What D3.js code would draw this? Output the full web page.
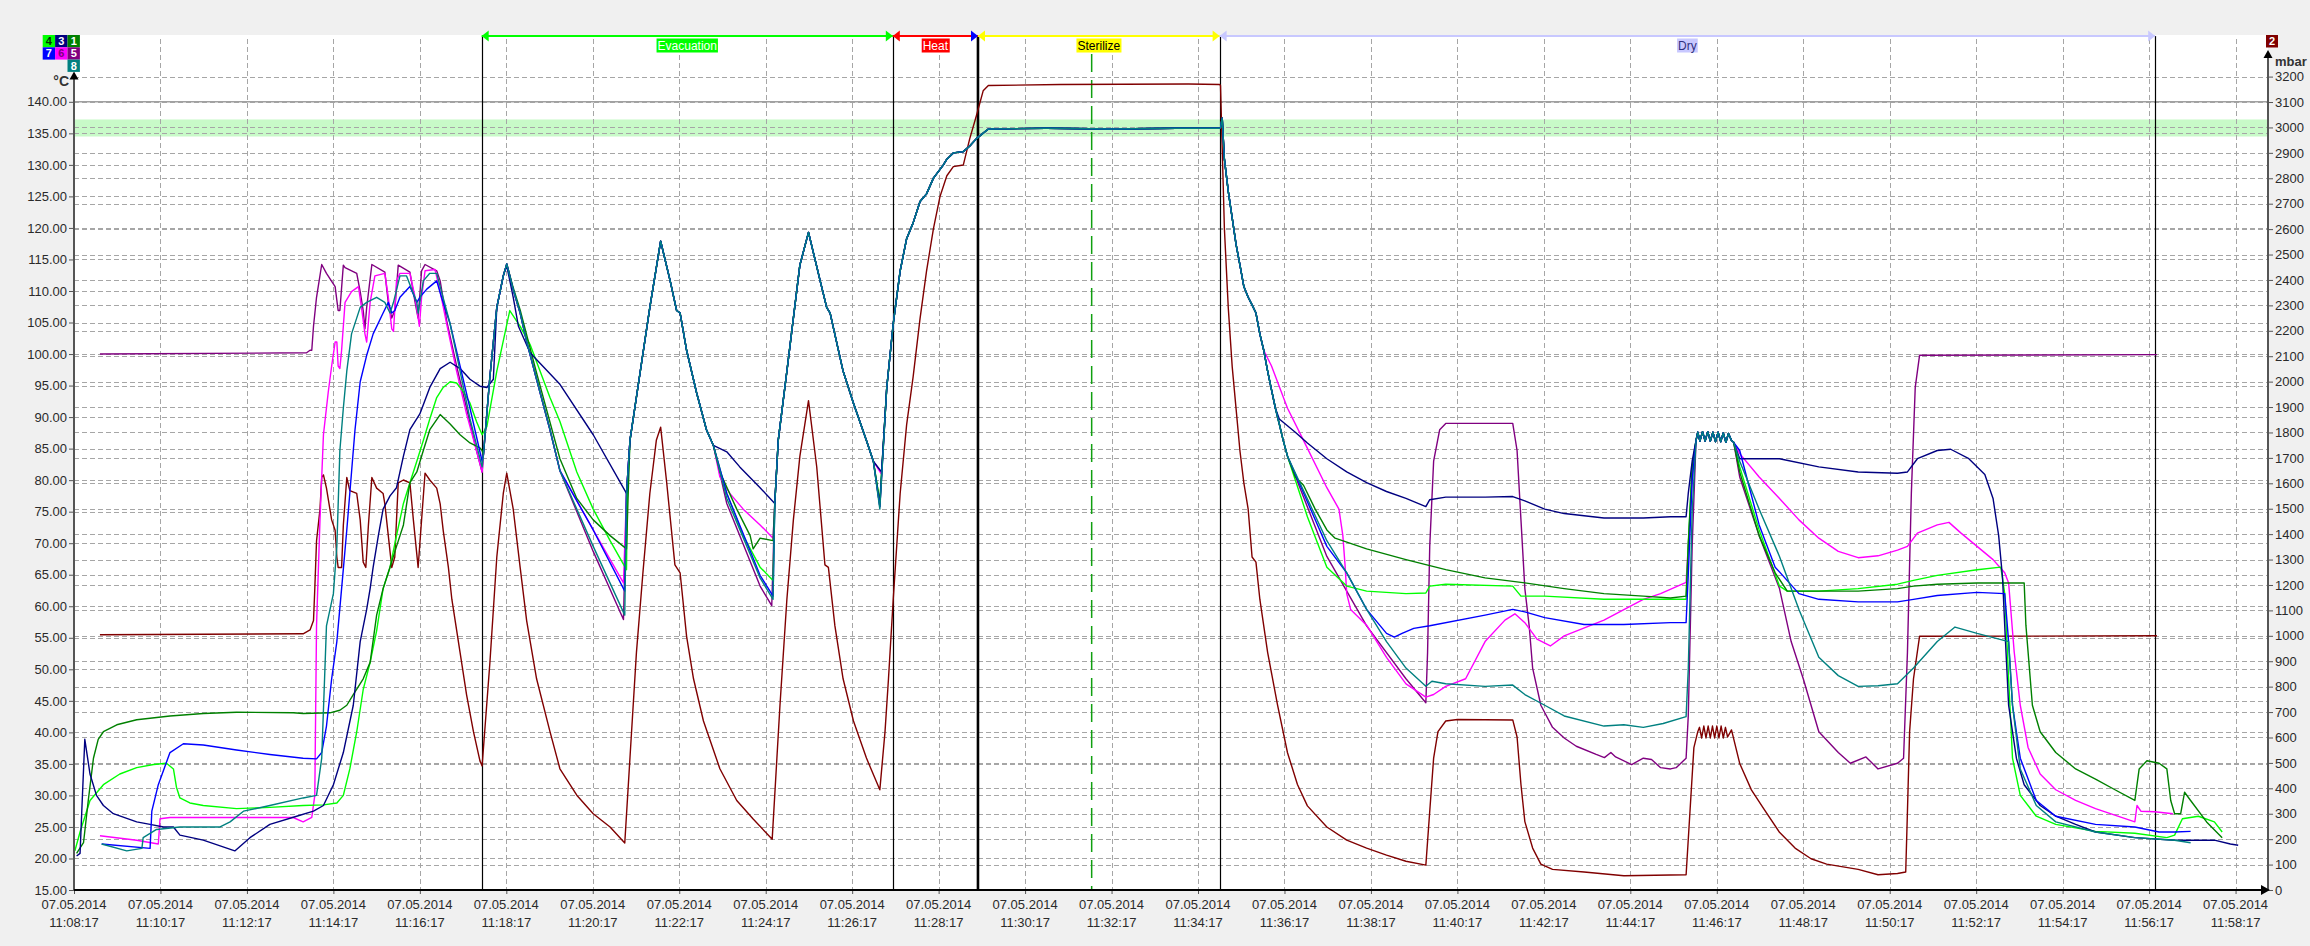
<!DOCTYPE html>
<html><head><meta charset="utf-8">
<script src="https://cdn.jsdelivr.net/npm/d3@7"></script>
<style>
html,body{margin:0;padding:0;background:#f0f0f0;}
svg{display:block;font-family:"Liberation Sans",Arial,sans-serif;}
</style></head><body>
<svg id="c" width="2310" height="946"></svg>
<script>
// ---------- DATA (time in minutes after 07.05.2014 11:08:17) ----------
const START = new Date(2014, 4, 7, 11, 8, 17);
const X_END_MIN = 50.75;
const xTickMinutes = d3.range(0, 51, 2);
const leftTicks = d3.range(15, 141, 5);          // °C
const rightTicks = d3.range(0, 3201, 100);       // mbar
const limitLine = 140;                           // °C solid line
const bandLo = 134.5, bandHi = 137.2;            // sterilisation band °C
const sterilizeMark = 23.54;                     // green dashed marker

const phaseNames = ["Evacuation", "Heat", "Sterilize", "Dry"];
const phaseStart = [9.43, 18.94, 20.91, 26.50];
const phaseEnd   = [18.94, 20.91, 26.50, 48.14];
const phaseColors = ["#00ff00", "#ff0000", "#ffff00", "#c8c8ff"];
const phaseEndArrowColors = ["#00ff00", "#0000ff", "#ffff00", "#c8c8ff"];
const phaseTextColors = ["#ffffff", "#ffffff", "#000000", "#303080"];

// shared segments (all temperature probes overlap)
const pulse1Up = [[9.47,84.0],[9.62,96.4],[9.78,107.4],[9.93,112.4],[10.01,114.3]];
const pulse1Down = [[10.16,110.2],[10.32,106.5],[10.47,102.0],[10.70,96.0],[11.01,88.0],[11.24,81.5]];
const pulse2 = [[12.86,86.3],[13.08,96.4],[13.32,107.4],[13.57,117.9],[13.79,111.6],[13.94,106.9],[14.02,106.5],[14.17,100.6],[14.40,93.9],[14.63,88.0],[14.79,85.5]];
const pulse3 = [[16.29,86.3],[16.49,97.3],[16.64,105.7],[16.79,114.1],[16.99,119.3],[17.26,111.6],[17.41,107.4],[17.49,106.5],[17.79,97.3],[18.03,92.2],[18.33,86.3],[18.49,83.0]];
const heatUp = [[18.80,94.7],[18.95,104.8],[19.11,113.2],[19.26,118.3],[19.41,120.8],[19.57,124.2],[19.72,125.4],[19.88,127.9],[20.11,130.0],[20.19,130.9],[20.34,131.9],[20.57,132.1],[20.72,133.0],[20.88,134.2],[21.15,135.7],[22.5,135.8],[24.0,135.7],[25.5,135.8],[26.50,135.8]];
const dryDrop = [[26.52,135.9],[26.56,137.4],[26.61,130.9],[26.70,125.8],[26.79,121.6],[26.88,117.4],[26.97,114.1],[27.06,110.7],[27.16,109.0],[27.25,107.8],[27.34,106.5],[27.43,103.2],[27.52,100.6]];
const dryDrop2 = [[27.61,97.3],[27.70,94.3],[27.79,91.4],[27.88,88.9],[27.97,86.3],[28.07,83.8]];
const dryPeak = [[37.52,86.3],[37.56,87.6],[37.61,86.2],[37.67,87.7],[37.73,86.2],[37.79,87.7],[37.85,86.2],[37.91,87.6],[37.97,86.1],[38.03,87.6],[38.09,86.1],[38.15,87.5],[38.21,86.0],[38.27,87.4],[38.34,86.3],[38.39,86.0]];

// 1 dark green (°C)
const s1 = [[0.06,20.8],[0.22,22.5],[0.33,29.2],[0.45,35.9],[0.56,38.9],[0.68,40.1],[0.99,41.2],[1.45,42.0],[2.22,42.6],[2.99,43.0],[3.76,43.2],[5.07,43.1],[5.30,43.0],[5.92,43.1],[6.15,43.5],[6.31,44.3],[6.46,46.0],[6.69,48.5],[6.85,51.1],[7.00,58.6],[7.15,62.8],[7.31,66.2],[7.46,69.5],[7.62,72.9],[7.77,79.6],[7.93,81.3],[8.08,84.7],[8.23,88.0],[8.47,90.4],[8.70,88.9],[8.93,87.2],[9.16,85.9],[9.39,85.1],[9.44,84.7],
 ...pulse1Up,[10.16,110.5],[10.32,107.0],[10.70,97.0],[11.24,83.4],[11.63,77.1],[12.01,73.7],[12.40,71.2],[12.78,69.1],[12.82,78.0],
 ...pulse2,[14.94,81.3],[15.33,75.4],[15.64,71.2],[15.71,69.1],[15.87,70.8],[16.17,70.4],[16.21,76.3],
 ...pulse3,[18.64,76.5],...heatUp,...dryDrop,...dryDrop2,
 [28.25,80.5],[28.44,79.2],[28.71,75.4],[28.98,72.1],[29.17,70.8],[29.90,69.1],[30.81,67.4],[31.73,65.8],[32.64,64.5],[33.56,63.7],[34.47,62.8],[35.39,62.0],[36.30,61.6],[36.93,61.3],[37.29,61.6],[37.34,69.5],[37.43,82.1],
 ...dryPeak,[38.53,81.3],[38.98,71.2],[39.35,65.3],[39.63,62.4],[41.27,62.4],[42.18,62.8],[42.55,63.2],[43.10,63.5],[44.02,63.7],[45.11,63.7],[45.15,57.0],[45.30,44.3],[45.48,40.1],[45.84,36.8],[46.30,34.2],[46.76,32.6],[47.21,30.9],[47.67,29.2],[47.77,34.2],[47.95,35.5],[48.23,35.1],[48.41,34.2],[48.50,29.2],[48.59,27.1],[48.73,27.1],[48.82,30.5],[48.96,29.2],[49.33,25.8],[49.69,23.3]];

// 2 maroon pressure (mbar, right axis)
const s2 = [[0.60,1004],[5.30,1008],[5.46,1023],[5.54,1060],[5.57,1185],[5.61,1373],[5.69,1498],[5.73,1623],[5.77,1633],[5.84,1581],[5.96,1456],[6.04,1415],[6.08,1310],[6.11,1269],[6.19,1269],[6.23,1435],[6.31,1623],[6.38,1571],[6.54,1560],[6.62,1456],[6.69,1290],[6.75,1269],[6.81,1435],[6.89,1623],[7.00,1581],[7.15,1560],[7.19,1519],[7.27,1394],[7.35,1269],[7.42,1310],[7.50,1602],[7.62,1613],[7.77,1602],[7.85,1456],[7.96,1269],[8.04,1456],[8.12,1640],[8.23,1613],[8.39,1581],[8.47,1519],[8.54,1415],[8.66,1269],[8.74,1144],[8.93,935],[9.08,769],[9.24,623],[9.39,508],[9.44,488],[9.62,894],[9.78,1310],[9.93,1560],[10.01,1640],[10.16,1498],[10.32,1269],[10.47,1060],[10.70,831],[11.01,623],[11.24,477],[11.63,373],[12.01,300],[12.40,248],[12.74,185],[12.86,519],[13.01,935],[13.16,1248],[13.32,1560],[13.47,1769],[13.57,1821],[13.71,1602],[13.90,1279],[14.02,1248],[14.17,998],[14.33,831],[14.56,665],[14.94,477],[15.33,352],[15.71,279],[16.15,200],[16.33,727],[16.49,1144],[16.64,1456],[16.79,1706],[16.99,1925],[17.18,1665],[17.37,1279],[17.45,1269],[17.60,1040],[17.79,831],[18.03,665],[18.33,519],[18.64,394],[18.76,623],[18.84,831],[18.95,1144],[19.11,1560],[19.26,1831],[19.41,2019],[19.57,2248],[19.72,2435],[19.88,2602],[20.03,2727],[20.19,2810],[20.34,2846],[20.57,2852],[20.72,2956],[20.88,3050],[21.03,3144],[21.15,3165],[22.81,3169],[25.78,3171],[26.50,3169],[26.52,3165],[26.56,2915],[26.61,2602],[26.70,2290],[26.79,2060],[26.88,1894],[26.97,1727],[27.06,1602],[27.16,1498],[27.25,1310],[27.34,1290],[27.43,1144],[27.61,935],[27.84,727],[28.07,540],[28.30,415],[28.53,331],[28.98,248],[29.44,196],[29.90,165],[30.36,137],[30.81,113],[31.27,98],[31.36,310],[31.45,519],[31.55,623],[31.73,665],[32.00,671],[33.28,669],[33.38,602],[33.47,415],[33.56,269],[33.74,165],[33.93,102],[34.20,81],[34.93,71],[35.85,56],[37.29,60],[37.38,310],[37.47,560],[37.56,623],[37.60,640],[37.65,598],[37.70,645],[37.75,598],[37.80,645],[37.85,598],[37.90,645],[37.95,598],[38.00,645],[38.05,598],[38.10,645],[38.15,598],[38.20,640],[38.25,602],[38.34,630],[38.53,498],[38.80,394],[39.08,321],[39.45,227],[39.81,165],[40.18,123],[40.54,102],[41.27,81],[41.73,60],[42.18,65],[42.37,71],[42.41,310],[42.46,623],[42.55,831],[42.69,998],[48.18,1000]];

// 3 navy (°C)
const s3 = [[0.06,20.4],[0.14,20.8],[0.18,27.5],[0.25,38.9],[0.37,33.4],[0.52,30.0],[0.68,28.4],[0.91,27.1],[1.45,25.8],[1.76,25.4],[2.07,25.0],[2.30,25.0],[2.45,23.7],[2.99,22.9],[3.72,21.2],[4.07,23.3],[4.53,25.4],[5.15,26.7],[5.54,27.5],[5.77,28.4],[6.00,31.7],[6.23,36.8],[6.46,44.3],[6.62,54.4],[6.77,59.5],[6.85,62.8],[6.92,66.2],[7.04,71.2],[7.15,75.4],[7.31,77.5],[7.46,78.8],[7.62,83.8],[7.77,88.0],[8.00,90.5],[8.23,94.7],[8.47,97.7],[8.70,98.7],[8.93,97.7],[9.16,96.0],[9.39,94.9],[9.55,94.7],[9.70,96.0],[9.78,107.4],[9.93,112.4],[10.01,114.0],[10.16,109.0],[10.28,104.4],[10.55,100.2],[11.24,95.2],[12.01,87.2],[12.78,77.9],
 ...pulse2,[15.10,84.5],[15.40,82.1],[15.87,78.8],[16.21,76.3],...pulse3,[18.68,81.3],...heatUp,...dryDrop,
 [27.61,97.3],[27.70,94.3],[27.79,91.4],[27.88,89.7],[28.25,87.6],[28.53,85.9],[28.98,83.4],[29.44,81.3],[29.90,79.6],[30.36,78.2],[30.81,77.1],[31.27,75.8],[31.36,76.9],[31.73,77.3],[32.64,77.3],[33.28,77.4],[33.56,76.7],[34.02,75.4],[34.47,74.7],[35.39,74.0],[36.30,74.0],[36.93,74.2],[37.29,74.2],[37.34,77.9],[37.43,83.0],
 ...dryPeak,[38.53,83.4],[39.45,83.4],[40.36,82.1],[41.27,81.3],[42.18,81.1],[42.41,81.3],[42.64,83.4],[43.10,84.7],[43.41,84.9],[43.83,83.4],[44.20,80.9],[44.39,77.1],[44.52,71.2],[44.61,64.5],[44.66,56.9],[44.75,44.3],[44.93,35.9],[45.11,31.7],[45.48,28.4],[45.84,26.7],[46.30,25.4],[46.76,24.2],[47.67,23.3],[48.59,22.9],[49.51,22.9],[49.88,22.3],[50.06,22.1]];

// 4 lime (°C)
const s4 = [[0.02,21.2],[0.14,24.2],[0.37,29.2],[0.68,31.7],[1.06,33.4],[1.45,34.4],[1.84,34.9],[2.14,35.1],[2.30,34.2],[2.37,31.3],[2.45,29.6],[2.68,28.8],[2.99,28.4],[3.76,27.9],[4.53,28.1],[5.30,28.4],[5.77,28.5],[6.08,28.8],[6.23,30.0],[6.38,34.2],[6.54,40.1],[6.69,46.8],[6.85,51.1],[7.00,56.1],[7.15,62.8],[7.31,66.2],[7.46,71.2],[7.62,76.3],[7.77,79.6],[7.93,83.0],[8.08,86.3],[8.23,89.7],[8.39,93.1],[8.54,94.7],[8.70,95.6],[8.85,95.4],[9.01,94.0],[9.16,92.2],[9.31,89.3],[9.44,87.2],[9.55,88.5],[9.78,97.3],[10.08,106.9],[10.32,104.4],[10.55,101.5],[11.01,93.1],[11.24,89.3],[11.63,81.3],[12.01,75.4],[12.40,70.4],[12.78,65.8],[12.80,78.0],
 ...pulse2,[15.10,77.9],[15.48,71.2],[15.87,66.2],[16.17,64.1],[16.21,76.3],...pulse3,[18.64,76.5],...heatUp,...dryDrop,...dryDrop2,
 [28.53,74.2],[28.98,66.2],[29.44,63.2],[29.90,62.4],[30.81,62.0],[31.27,62.1],[31.36,63.2],[31.73,63.5],[33.28,63.2],[33.47,61.6],[34.02,61.6],[35.39,61.1],[36.93,61.1],[37.29,61.1],[37.34,70.0],[37.43,82.0],
 ...dryPeak,[38.53,82.1],[38.98,72.1],[39.45,63.2],[39.63,62.4],[40.36,62.4],[41.27,62.8],[42.18,63.5],[42.55,64.1],[43.10,64.9],[44.02,65.8],[44.57,66.2],[44.66,62.0],[44.75,48.5],[44.84,35.9],[45.02,30.0],[45.39,26.7],[45.84,25.4],[46.76,24.3],[47.67,24.0],[48.41,23.3],[48.59,23.7],[48.77,26.3],[49.14,26.7],[49.51,25.8],[49.69,24.2]];

// 5 purple (°C)
const s5 = [[0.60,100.0],[5.38,100.2],[5.46,100.6],[5.50,100.6],[5.54,104.4],[5.61,109.0],[5.73,114.2],[5.84,112.8],[6.04,110.7],[6.11,106.9],[6.15,106.9],[6.23,114.1],[6.27,113.7],[6.54,112.8],[6.62,109.9],[6.69,106.9],[6.73,104.0],[6.77,107.4],[6.89,114.2],[7.19,113.0],[7.27,108.2],[7.35,105.7],[7.42,106.9],[7.50,114.1],[7.77,113.0],[7.89,108.2],[7.96,105.7],[8.04,113.2],[8.12,114.2],[8.39,113.2],[8.47,111.6],[8.62,105.3],[8.85,98.1],[9.08,91.4],[9.31,84.7],[9.44,81.3],
 ...pulse1Up,...pulse1Down,[12.01,68.7],[12.71,57.9],[12.78,77.9],...pulse2,[15.10,76.3],[15.87,63.2],[16.14,60.1],[16.21,76.3],...pulse3,[18.64,75.8],...heatUp,...dryDrop,...dryDrop2,
 [28.98,67.9],[29.90,56.9],[30.81,48.5],[31.27,44.7],[31.31,52.7],[31.36,69.5],[31.45,83.0],[31.59,88.0],[31.73,89.0],[33.28,89.0],[33.38,84.7],[33.47,73.7],[33.56,62.8],[33.66,56.9],[33.74,50.2],[33.93,44.3],[34.20,40.8],[34.47,39.1],[34.75,37.8],[35.21,36.5],[35.40,36.0],[35.55,36.8],[35.66,36.1],[36.03,34.9],[36.30,35.9],[36.49,35.7],[36.70,34.4],[36.93,34.2],[37.06,34.4],[37.29,35.9],[37.34,42.6],[37.43,69.5],
 ...dryPeak,[38.53,80.5],[38.98,71.2],[39.45,62.8],[39.72,54.4],[40.00,48.5],[40.36,40.1],[40.81,36.8],[41.09,35.1],[41.45,36.1],[41.73,34.2],[42.18,35.1],[42.32,35.9],[42.41,52.7],[42.50,77.9],[42.59,94.7],[42.69,99.8],[48.18,99.9]];

// 6 magenta (°C)
const s6 = [[0.60,23.6],[1.45,22.9],[1.95,22.3],[1.99,26.3],[2.22,26.5],[5.07,26.5],[5.30,25.8],[5.50,26.5],[5.57,30.0],[5.61,56.9],[5.69,73.7],[5.77,87.2],[5.88,93.9],[5.96,98.1],[6.04,101.9],[6.08,101.9],[6.11,98.1],[6.15,97.7],[6.19,100.6],[6.27,108.2],[6.42,109.9],[6.58,110.7],[6.65,107.4],[6.73,103.2],[6.77,101.9],[6.85,108.2],[6.96,112.4],[7.19,112.8],[7.27,109.0],[7.35,104.0],[7.39,103.6],[7.46,111.6],[7.54,112.8],[7.77,112.8],[7.89,109.0],[7.99,104.4],[8.04,109.0],[8.12,113.2],[8.35,113.4],[8.47,109.9],[8.62,104.8],[8.85,97.3],[9.08,90.5],[9.31,84.7],[9.44,81.3],
 ...pulse1Up,...pulse1Down,[12.01,72.1],[12.71,63.7],[12.78,77.9],...pulse2,[14.94,80.5],[15.17,77.9],[15.48,75.4],[15.87,72.9],[16.17,70.8],[16.21,76.3],...pulse3,[18.68,80.9],...heatUp,...dryDrop,
 [27.70,98.1],[28.07,91.4],[28.44,86.3],[28.98,78.8],[29.26,75.4],[29.35,71.2],[29.40,66.6],[29.44,62.0],[29.53,59.5],[29.90,57.0],[30.36,51.9],[30.81,47.7],[31.27,45.6],[31.45,46.0],[31.73,47.3],[32.19,48.5],[32.64,54.4],[33.10,57.8],[33.33,58.8],[33.56,57.4],[33.84,54.8],[34.15,53.7],[34.47,55.3],[35.39,57.8],[36.30,61.1],[36.70,62.0],[37.29,63.8],[37.43,80.0],
 ...dryPeak,[38.53,84.2],[38.98,80.5],[39.45,77.1],[39.90,73.7],[40.36,70.8],[40.81,68.7],[41.27,67.7],[41.73,68.0],[42.18,68.9],[42.41,69.5],[42.64,71.6],[43.10,72.9],[43.37,73.3],[43.65,71.6],[44.02,69.5],[44.39,67.4],[44.66,65.3],[44.75,63.7],[44.88,52.7],[45.02,44.3],[45.20,37.6],[45.48,33.4],[45.84,30.9],[46.30,29.2],[46.76,27.9],[47.67,25.8],[47.72,28.4],[47.81,27.5],[48.13,27.4],[48.55,27.1]];

// 7 blue (°C)
const s7 = [[0.64,22.3],[1.76,21.6],[1.80,27.5],[1.95,31.7],[2.22,36.8],[2.53,38.2],[2.99,38.0],[3.76,37.2],[4.53,36.5],[5.30,35.9],[5.61,35.8],[5.73,36.8],[5.84,41.0],[5.96,48.5],[6.08,54.4],[6.19,62.8],[6.31,72.1],[6.42,81.3],[6.50,88.0],[6.62,95.6],[6.77,99.8],[6.92,103.2],[7.15,106.5],[7.27,108.2],[7.35,106.5],[7.42,106.9],[7.54,109.0],[7.77,110.7],[7.93,108.2],[8.00,109.0],[8.16,110.3],[8.39,111.6],[8.50,109.0],[8.70,104.8],[8.93,98.1],[9.16,91.4],[9.44,83.0],
 ...pulse1Up,...pulse1Down,[12.01,72.1],[12.74,62.4],[12.78,77.9],...pulse2,[15.10,77.9],[15.87,64.9],[16.17,61.6],[16.21,76.3],...pulse3,[18.64,75.8],...heatUp,...dryDrop,...dryDrop2,
 [28.98,69.5],[29.44,65.3],[29.90,59.5],[30.36,55.7],[30.54,55.1],[30.72,55.7],[30.99,56.5],[31.36,56.9],[32.64,58.6],[33.28,59.5],[33.56,59.1],[34.02,58.2],[34.93,57.1],[35.85,57.1],[36.93,57.4],[37.29,57.4],[37.34,65.0],[37.43,80.0],
 ...dryPeak,[38.53,84.7],[38.98,72.9],[39.35,66.2],[39.90,62.0],[40.36,61.1],[41.27,60.7],[42.18,60.7],[42.55,61.1],[43.10,61.7],[44.02,62.2],[44.66,62.0],[44.75,54.4],[44.84,44.3],[45.02,35.9],[45.39,29.2],[45.84,26.7],[46.76,25.4],[47.67,25.0],[48.23,24.2],[48.59,24.2],[48.96,24.3]];

// 8 teal (°C)
const s8 = [[0.64,22.3],[1.22,21.2],[1.57,21.6],[1.60,23.3],[1.91,24.6],[2.45,25.0],[3.38,25.0],[3.61,25.8],[3.92,27.5],[4.53,28.4],[5.30,29.6],[5.61,30.0],[5.73,35.9],[5.84,56.9],[6.00,62.0],[6.08,69.5],[6.15,84.7],[6.23,91.4],[6.31,97.3],[6.42,103.2],[6.62,107.4],[6.77,108.2],[7.00,109.0],[7.19,108.2],[7.31,106.5],[7.39,108.2],[7.54,112.4],[7.69,112.4],[7.93,108.2],[7.96,106.5],[8.08,111.6],[8.23,112.8],[8.39,112.8],[8.47,110.7],[8.70,104.8],[8.93,97.3],[9.16,89.7],[9.44,82.1],
 ...pulse1Up,...pulse1Down,[12.01,69.5],[12.74,58.6],[12.78,77.9],...pulse2,[15.10,77.1],[15.87,64.5],[16.17,61.1],[16.21,76.3],...pulse3,[18.64,75.4],...heatUp,...dryDrop,...dryDrop2,
 [28.98,70.4],[29.44,65.3],[29.90,59.5],[30.36,54.4],[30.81,50.2],[31.27,47.3],[31.41,48.1],[31.73,47.7],[32.64,47.3],[33.28,47.5],[33.56,46.0],[34.02,44.3],[34.47,42.6],[35.39,41.0],[35.85,41.2],[36.30,40.8],[36.76,41.4],[37.29,42.5],[37.34,50.0],[37.43,75.0],
 ...dryPeak,[38.53,83.0],[38.98,75.4],[39.45,67.9],[39.90,59.5],[40.36,51.9],[40.81,49.0],[41.27,47.3],[41.73,47.4],[42.18,47.7],[42.55,50.2],[43.10,54.4],[43.51,56.7],[44.02,55.7],[44.75,54.4],[44.84,44.3],[45.02,34.2],[45.39,28.4],[45.84,25.8],[46.76,24.2],[47.67,23.3],[48.59,22.9],[48.96,22.5]];

const seriesIds = ["2","5","6","4","1","3","7","8"];          // draw order
const seriesData = {"1":s1,"2":s2,"3":s3,"4":s4,"5":s5,"6":s6,"7":s7,"8":s8};
const seriesColors = {"1":"#008000","2":"#800000","3":"#000080","4":"#00ff00","5":"#800080","6":"#ff00ff","7":"#0000ff","8":"#008080"};
const seriesAxis = {"2":"right"};

// legend cells: id, column, row
const legendCells = [["4",0,0],["3",1,0],["1",2,0],["7",0,1],["6",1,1],["5",2,1],["8",2,2]];
const legendTextColors = {"4":"#003000","6":"#800080"};

// ---------- DRAW ----------
const W = 2310, H = 946;
const L = 74, R = 2268, T = 76.6, B = 890, TOPW = 35, BARY = 36;
const FONT = '"Liberation Sans", Arial, sans-serif';
const toDate = m => new Date(START.getTime() + m * 60000);
const x = d3.scaleTime().domain([toDate(0), toDate(X_END_MIN)]).range([L, R]);
const yL = d3.scaleLinear().domain([15, 144]).range([B, T]);
const yR = d3.scaleLinear().domain([0, 3200]).range([B, T]);
const svg = d3.select("#c");

svg.append("rect").attr("width", W).attr("height", H).attr("fill", "#f0f0f0");
svg.append("rect").attr("x", L).attr("y", TOPW).attr("width", R - L).attr("height", B - TOPW).attr("fill", "#ffffff");

// sterilisation band
svg.append("rect").attr("x", L).attr("y", yL(bandHi)).attr("width", R - L)
  .attr("height", yL(bandLo) - yL(bandHi)).attr("fill", "#c8fac8");

// grid
const grid = svg.append("g").attr("stroke", "#a6a6a6").attr("stroke-width", 1).attr("stroke-dasharray", "5,3");
leftTicks.filter(v => v !== limitLine && v !== 15).forEach(v =>
  grid.append("line").attr("x1", L).attr("x2", R).attr("y1", Math.round(yL(v)) + 0.5).attr("y2", Math.round(yL(v)) + 0.5));
rightTicks.filter(v => v > 0).forEach(v =>
  grid.append("line").attr("x1", L).attr("x2", R).attr("y1", Math.round(yR(v)) + 0.5).attr("y2", Math.round(yR(v)) + 0.5));
xTickMinutes.filter(m => m > 0).forEach(m =>
  grid.append("line").attr("x1", Math.round(x(toDate(m))) + 0.5).attr("x2", Math.round(x(toDate(m))) + 0.5).attr("y1", TOPW + 4).attr("y2", B));

// limit line
svg.append("line").attr("x1", L).attr("x2", R).attr("y1", yL(limitLine)).attr("y2", yL(limitLine))
  .attr("stroke", "#a0a0a0").attr("stroke-width", 1.5);

// phase boundary lines
const boundaries = [phaseStart[0], phaseStart[1], phaseStart[3], phaseEnd[3]];
boundaries.forEach(m => svg.append("line").attr("x1", Math.round(x(toDate(m))) + 0.5).attr("x2", Math.round(x(toDate(m))) + 0.5)
  .attr("y1", BARY).attr("y2", B).attr("stroke", "#000").attr("stroke-width", 1.2));
svg.append("line").attr("x1", x(toDate(phaseStart[2]))).attr("x2", x(toDate(phaseStart[2])))
  .attr("y1", BARY).attr("y2", B).attr("stroke", "#000").attr("stroke-width", 2.6);
// green dashed marker
svg.append("line").attr("x1", x(toDate(sterilizeMark))).attr("x2", x(toDate(sterilizeMark)))
  .attr("y1", 54).attr("y2", B).attr("stroke", "#10a010").attr("stroke-width", 1.5).attr("stroke-dasharray", "18,8");

// series
const lineL = d3.line().x(d => x(toDate(d[0]))).y(d => yL(d[1]));
const lineR = d3.line().x(d => x(toDate(d[0]))).y(d => yR(d[1]));
seriesIds.forEach(id => {
  svg.append("path").datum(seriesData[id])
    .attr("d", seriesAxis[id] === "right" ? lineR : lineL)
    .attr("fill", "none").attr("stroke", seriesColors[id]).attr("stroke-width", 1.4)
    .attr("stroke-linejoin", "round");
});

// phase bar
phaseNames.forEach((name, i) => {
  const x0 = x(toDate(phaseStart[i])), x1 = x(toDate(phaseEnd[i]));
  svg.append("line").attr("x1", x0).attr("x2", x1).attr("y1", BARY).attr("y2", BARY)
    .attr("stroke", phaseColors[i]).attr("stroke-width", 2);
  svg.append("path").attr("d", `M${x0},${BARY} L${x0 + 7},${BARY - 5.5} L${x0 + 7},${BARY + 5.5} Z`).attr("fill", phaseColors[i]);
  svg.append("path").attr("d", `M${x1},${BARY} L${x1 - 7},${BARY - 5.5} L${x1 - 7},${BARY + 5.5} Z`).attr("fill", phaseEndArrowColors[i]);
  const cx = (x0 + x1) / 2;
  const t = svg.append("text").attr("x", cx).attr("y", 49.5).attr("text-anchor", "middle")
    .attr("font-family", FONT).attr("font-size", 12).attr("fill", phaseTextColors[i]).text(name);
  const bb = t.node().getBBox();
  svg.insert("rect", () => t.node()).attr("x", bb.x - 1).attr("y", 38.5).attr("width", bb.width + 2).attr("height", 14)
    .attr("fill", phaseColors[i]);
});

// left axis
const axL = svg.append("g").attr("transform", `translate(${L},0)`)
  .call(d3.axisLeft(yL).tickValues(leftTicks).tickFormat(d3.format(".2f")).tickSize(5).tickPadding(2));
axL.select(".domain").remove();
axL.attr("font-family", FONT).attr("font-size", 13);
axL.selectAll("text").attr("fill", "#2a2a2a");
axL.selectAll("line").attr("stroke", "#555");

// right axis
const axR = svg.append("g").attr("transform", `translate(${R},0)`)
  .call(d3.axisRight(yR).tickValues(rightTicks).tickFormat(d3.format("d")).tickSize(5).tickPadding(2));
axR.select(".domain").remove();
axR.attr("font-family", FONT).attr("font-size", 13);
axR.selectAll("text").attr("fill", "#2a2a2a");
axR.selectAll("line").attr("stroke", "#555");

// bottom axis
const xTickDates = xTickMinutes.map(toDate);
const axB = svg.append("g").attr("transform", `translate(0,${B})`)
  .call(d3.axisBottom(x).tickValues(xTickDates).tickSize(4).tickFormat(""));
axB.select(".domain").remove();
axB.selectAll("line").attr("stroke", "#555");
const fDate = d3.timeFormat("%d.%m.%Y"), fTime = d3.timeFormat("%H:%M:%S");
xTickDates.forEach(d => {
  const t = svg.append("text").attr("x", x(d)).attr("text-anchor", "middle")
    .attr("font-family", FONT).attr("font-size", 13).attr("fill", "#2a2a2a");
  t.append("tspan").attr("x", x(d)).attr("y", 909).text(fDate(d));
  t.append("tspan").attr("x", x(d)).attr("y", 927).text(fTime(d));
});

// axis lines with arrows
svg.append("line").attr("x1", L).attr("x2", L).attr("y1", B).attr("y2", T + 2).attr("stroke", "#555").attr("stroke-width", 2);
svg.append("path").attr("d", `M${L},${T - 5} L${L - 4.5},${T + 3} L${L + 4.5},${T + 3} Z`).attr("fill", "#000");
svg.append("line").attr("x1", R).attr("x2", R).attr("y1", B).attr("y2", 57).attr("stroke", "#555").attr("stroke-width", 2);
svg.append("path").attr("d", `M${R},${50} L${R - 4.5},${58} L${R + 4.5},${58} Z`).attr("fill", "#000");
svg.append("line").attr("x1", L).attr("x2", R - 6).attr("y1", B).attr("y2", B).attr("stroke", "#000").attr("stroke-width", 2);
svg.append("path").attr("d", `M${R + 2},${B} L${R - 7},${B - 5} L${R - 7},${B + 5} Z`).attr("fill", "#000");

// unit labels
svg.append("text").attr("x", 69).attr("y", 86).attr("text-anchor", "end").attr("font-family", FONT)
  .attr("font-size", 14).attr("font-weight", "bold").attr("fill", "#333").text("°C");
svg.append("text").attr("x", 2275).attr("y", 66).attr("font-family", FONT)
  .attr("font-size", 13).attr("font-weight", "bold").attr("fill", "#333").text("mbar");

// legend
const cw = 12.4, ch = 12.3, lx = 42.7, ly = 35;
legendCells.forEach(([id, c, r]) => {
  svg.append("rect").attr("x", lx + c * cw).attr("y", ly + r * ch).attr("width", cw).attr("height", ch)
    .attr("fill", seriesColors[id]);
  svg.append("text").attr("x", lx + c * cw + cw / 2).attr("y", ly + r * ch + 10).attr("text-anchor", "middle")
    .attr("font-family", FONT).attr("font-size", 11).attr("font-weight", "bold")
    .attr("fill", legendTextColors[id] || "#ffffff").text(id);
});
svg.append("rect").attr("x", 2266).attr("y", 35).attr("width", 12).attr("height", 12.5).attr("fill", seriesColors["2"]);
svg.append("text").attr("x", 2272).attr("y", 45).attr("text-anchor", "middle").attr("font-family", FONT)
  .attr("font-size", 11).attr("font-weight", "bold").attr("fill", "#fff").text("2");
</script></body></html>
